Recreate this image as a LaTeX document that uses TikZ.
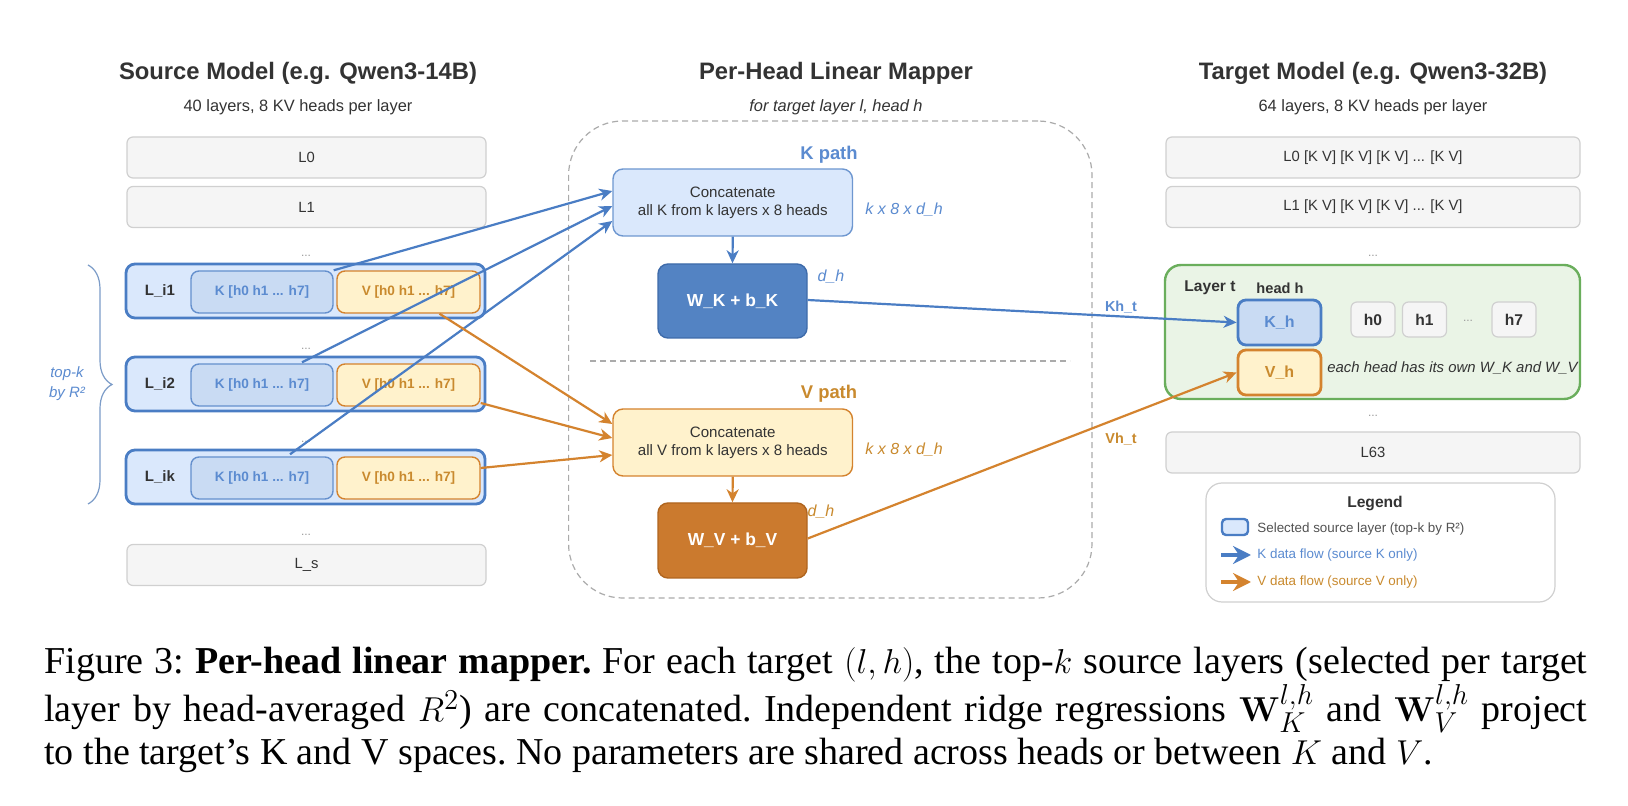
\documentclass[tikz,border=0pt]{standalone}
\usepackage[no-math]{fontspec}
\setmainfont{Liberation Sans}
\newfontfamily\capfont{Liberation Serif}
\usetikzlibrary{arrows.meta,calc,decorations.pathreplacing}
\definecolor{kblue}{HTML}{4A7DC4}
\definecolor{kfill}{HTML}{DAE8FC}
\definecolor{kinner}{HTML}{C9DBF3}
\definecolor{ktext}{HTML}{5B8BD0}
\definecolor{vorange}{HTML}{D4832E}
\definecolor{vfill}{HTML}{FFF2CC}
\definecolor{vtext}{HTML}{C98A2E}
\definecolor{wkfill}{HTML}{5383C3}
\definecolor{wkdraw}{HTML}{3E6BAA}
\definecolor{wvfill}{HTML}{CB7A2E}
\definecolor{wvdraw}{HTML}{B0651F}
\definecolor{gfill}{HTML}{F5F5F5}
\definecolor{gdraw}{HTML}{D0D0D0}
\definecolor{txt}{HTML}{333333}
\definecolor{grn}{HTML}{6AAE5C}
\definecolor{grnfill}{HTML}{EAF4E6}
\definecolor{dashc}{HTML}{ABABAB}
\definecolor{dotc}{HTML}{9A9A9A}
\definecolor{bracec}{HTML}{7C9CC8}
\newcommand\fsz[2]{\fontsize{#1}{#2}\selectfont}
\tikzset{
  title/.style={inner sep=0pt, text=txt, font=\bfseries\fsz{11.9}{14}},
  subt/.style={inner sep=0pt, text=txt, font=\fsz{8.2}{10}},
  graybox/.style={draw=gdraw, fill=gfill, line width=0.6pt, rounded corners=3pt, minimum width=179.5pt, minimum height=20.5pt, inner sep=0pt, font=\fsz{7.4}{9}, text=txt},
  tgray/.style={graybox, minimum width=207pt},
  dots/.style={inner sep=0pt, text=dotc, font=\fsz{6}{7}},
  selbox/.style={draw=kblue, fill=kfill, line width=1.4pt, rounded corners=4.5pt, minimum width=179.5pt, minimum height=27pt, inner sep=0pt},
  sellab/.style={inner sep=0pt, text=txt, font=\bfseries\fsz{7.5}{9}},
  kin/.style={draw=kblue!85, fill=kinner, line width=0.7pt, rounded corners=4pt, minimum width=71pt, minimum height=21pt, inner sep=0pt, font=\bfseries\fsz{6.8}{8}, text=ktext},
  vin/.style={draw=vorange, fill=vfill, line width=0.7pt, rounded corners=4pt, minimum width=71.5pt, minimum height=21pt, inner sep=0pt, font=\bfseries\fsz{6.8}{8}, text=vtext},
  container/.style={draw=dashc, dash pattern=on 3pt off 2pt, line width=0.6pt, rounded corners=27pt, minimum width=261.7pt, minimum height=238.5pt, inner sep=0pt},
  kpath/.style={inner sep=0pt, text=ktext, font=\bfseries\fsz{9.2}{10}},
  vpath/.style={inner sep=0pt, text=vtext, font=\bfseries\fsz{9.2}{10}},
  kcat/.style={draw=kblue!80, fill=kfill, line width=0.7pt, rounded corners=5pt, minimum width=119.75pt, minimum height=33.5pt, inner sep=0pt, align=center, font=\fsz{7.55}{9}, text=txt},
  vcat/.style={draw=vorange, fill=vfill, line width=0.7pt, rounded corners=5pt, minimum width=119.75pt, minimum height=33.5pt, inner sep=0pt, align=center, font=\fsz{7.55}{9}, text=txt},
  kdim/.style={inner sep=0pt, text=ktext, font=\itshape\fsz{8}{9}},
  vdim/.style={inner sep=0pt, text=vtext, font=\itshape\fsz{8}{9}},
  wk/.style={draw=wkdraw, fill=wkfill, line width=0.7pt, rounded corners=5pt, minimum width=74.5pt, minimum height=37pt, inner sep=0pt, text=white, font=\bfseries\fsz{8.7}{10}},
  wv/.style={draw=wvdraw, fill=wvfill, line width=0.7pt, rounded corners=5pt, minimum width=74.5pt, minimum height=37.5pt, inner sep=0pt, text=white, font=\bfseries\fsz{8.7}{10}},
  layert/.style={draw=grn, fill=grnfill, line width=1.2pt, rounded corners=8pt, minimum width=207.5pt, minimum height=67pt, inner sep=0pt},
  ltlab/.style={inner sep=0pt, text=txt, font=\bfseries\fsz{7.8}{9}},
  kh/.style={draw=kblue, fill=kinner, line width=1.4pt, rounded corners=4pt, minimum width=41.5pt, minimum height=22.5pt, inner sep=0pt, text=ktext, font=\bfseries\fsz{8}{9}},
  vh/.style={draw=vorange, fill=vfill, line width=1.4pt, rounded corners=4pt, minimum width=41.5pt, minimum height=22.5pt, inner sep=0pt, text=vtext, font=\bfseries\fsz{8}{9}},
  hbox/.style={draw=gdraw, fill=gfill, line width=0.6pt, rounded corners=3pt, minimum width=22pt, minimum height=17.5pt, inner sep=0pt, text=txt, font=\bfseries\fsz{7.8}{9}},
  note/.style={inner sep=0pt, text=txt, font=\itshape\fsz{7.45}{9}},
  legend/.style={draw=gdraw, fill=white, line width=0.6pt, rounded corners=8pt, minimum width=174.5pt, minimum height=59.5pt, inner sep=0pt},
  legt/.style={inner sep=0pt, text=txt, font=\bfseries\fsz{7.8}{9}},
  legtxt/.style={inner sep=0pt, text=txt!85, font=\fsz{6.7}{8}},
  legicon/.style={draw=kblue, fill=kfill, line width=1.2pt, rounded corners=2pt, minimum width=13pt, minimum height=8pt, inner sep=0pt},
  flowlab/.style={inner sep=0pt, font=\bfseries\fsz{7.2}{9}},
  karrow/.style={draw=kblue, line width=1.1pt, -{Stealth[length=6.5pt,width=6pt,inset=2pt]}},
  varrow/.style={draw=vorange, line width=1.1pt, -{Stealth[length=6.5pt,width=6pt,inset=2pt]}},
  sidelab/.style={inner sep=0pt, text=ktext, align=center, font=\itshape\fsz{7.5}{10}},
}
\begin{document}
\begin{tikzpicture}[x=0.5pt,y=-0.5pt]
\useasboundingbox[fill=white] (0,0) rectangle (1628,806);

% ---------------- Source column ----------------
\node[title] (st) at (298,73) {Source Model (e.g. Qwen3-14B)};
\node[subt] (ss) at (298,107) {40 layers, 8 KV heads per layer};
\node[graybox] (sL0) at (306.5,157.5) {L0};
\node[graybox] (sL1) at (306.5,207) {L1};
\node[dots] (sd1) at (306,256) {...};
\node[selbox] (si1) at (305.5,291) {};
\node[sellab] (si1l) at (160,291) {L\_i1};
\node[kin] (si1k) at (262,292) {K [h0 h1 ... h7]};
\node[vin] (si1v) at (408.5,292) {V [h0 h1 ... h7]};
\node[dots] (sd2) at (306,349) {...};
\node[selbox] (si2) at (305.5,384) {};
\node[sellab] (si2l) at (160,384) {L\_i2};
\node[kin] (si2k) at (262,385) {K [h0 h1 ... h7]};
\node[vin] (si2v) at (408.5,385) {V [h0 h1 ... h7]};
\node[dots] (sd3) at (306,442) {...};
\node[selbox] (sik) at (305.5,477) {};
\node[sellab] (sikl) at (160,477) {L\_ik};
\node[kin] (sikk) at (262,478) {K [h0 h1 ... h7]};
\node[vin] (sikv) at (408.5,478) {V [h0 h1 ... h7]};
\node[dots] (sd4) at (306,535) {...};
\node[graybox] (sLs) at (306.5,565) {L\_s};
\coordinate (bt) at (88,265);
\coordinate (bb) at (88,504);
\draw[bracec, line width=0.6pt, decorate, decoration={brace, amplitude=12pt}] (bt) -- (bb);
\node[sidelab] (topk) at (67,384) {top-k\\by R²};

% ---------------- Mapper ----------------
\node[title] (mt) at (836,73) {Per-Head Linear Mapper};
\node[subt, font=\itshape\fsz{8.2}{10}] (ms) at (836,107) {for target layer l, head h};
\node[container] (mc) at (830.3,359.5) {};
\node[kpath] (kp) at (829,155) {K path};
\node[kcat] (kc) at (732.75,202.5) {Concatenate\\all K from k layers x 8 heads};
\node[kdim, anchor=west] (kdim) at (865,210) {k x 8 x d\_h};
\node[wk] (wk) at (732.5,301) {W\_K + b\_K};
\node[kdim] (kdh) at (831,277) {d\_h};
\coordinate (sepL) at (590,361);
\coordinate (sepR) at (1070,361);
\draw[dashc, dash pattern=on 3pt off 2pt, line width=0.6pt] (sepL) -- (sepR);
\node[vpath] (vp) at (829,394) {V path};
\node[vcat] (vc) at (732.75,442.5) {Concatenate\\all V from k layers x 8 heads};
\node[vdim, anchor=west] (vdim) at (865,450) {k x 8 x d\_h};
\node[wv] (wv) at (732.5,540.5) {W\_V + b\_V};
\node[vdim] (vdh) at (821,512) {d\_h};

% ---------------- Target column ----------------
\node[title] (tt) at (1373,73) {Target Model (e.g. Qwen3-32B)};
\node[subt] (ts) at (1373,107) {64 layers, 8 KV heads per layer};
\node[tgray] (tL0) at (1373,157.5) {L0 [K V] [K V] [K V] ... [K V]};
\node[tgray] (tL1) at (1373,207) {L1 [K V] [K V] [K V] ... [K V]};
\node[dots] (td1) at (1373,256) {...};
\node[layert] (lt) at (1372.5,332) {};
\node[ltlab] (ltl) at (1210,288) {Layer t};
\node[ltlab, font=\bfseries\fsz{7.3}{9}] (hh) at (1280,288) {head h};
\node[kh] (kh) at (1279.5,322.5) {K\_h};
\node[vh] (vh) at (1279.5,372.5) {V\_h};
\node[hbox] (h0) at (1373,319.5) {h0};
\node[hbox] (h1) at (1424.5,319.5) {h1};
\node[dots] (hd) at (1468,321) {...};
\node[hbox] (h7) at (1514,319.5) {h7};
\node[note, anchor=west] (note) at (1327,368) {each head has its own W\_K and W\_V};
\node[dots] (td2) at (1373,416) {...};
\node[tgray] (tL63) at (1373,452.5) {L63};

% legend
\node[legend] (lg) at (1380.5,542.5) {};
\node[legt] (lgt) at (1375,504) {Legend};
\node[legicon] (lgi) at (1235,527) {};
\node[legtxt, anchor=west] (lg1) at (1257,529) {Selected source layer (top-k by R²)};
\coordinate (la1) at (1221,555);
\coordinate (la1e) at (1251,555);
\draw[kblue, line width=1.6pt, -{Stealth[length=9pt,width=9pt,inset=3pt]}] (la1) -- (la1e);
\node[legtxt, text=ktext, anchor=west] (lg2) at (1257,555) {K data flow (source K only)};
\coordinate (la2) at (1221,582);
\coordinate (la2e) at (1251,582);
\draw[vorange, line width=1.6pt, -{Stealth[length=9pt,width=9pt,inset=3pt]}] (la2) -- (la2e);
\node[legtxt, text=vtext, anchor=west] (lg3) at (1257,582) {V data flow (source V only)};

% flow labels
\node[flowlab, text=ktext] (kht) at (1121,307) {Kh\_t};
\node[flowlab, text=vtext] (vht) at (1121,439) {Vh\_t};

% ---------------- Arrows ----------------
\draw[karrow] (si1k.north east) -- ($(kc.west)+(0,-11.5)$);
\draw[karrow] ($(si2k.north)+(40,-1)$) -- ($(kc.west)+(0,3.5)$);
\draw[karrow] ($(sikk.north)+(28,-2)$) -- ($(kc.west)+(0,18.5)$);
\draw[varrow] ($(si1v.south)+(31,0)$) -- ($(vc.west)+(0,-18.5)$);
\draw[varrow] ($(si2v.east)+(0,18)$) -- ($(vc.west)+(0,-4.5)$);
\draw[varrow] ($(sikv.east)+(0,-10)$) -- ($(vc.west)+(0,12.5)$);
\draw[karrow] (kc.south) -- (wk.north);
\draw[varrow] (vc.south) -- (wv.north);
\draw[karrow] ($(wk.east)+(0,-1)$) -- (kh.west);
\draw[varrow] ($(wv.east)+(0,-2)$) -- (vh.west);

% ---------------- Caption ----------------
\node[anchor=north west, inner sep=0pt, text width=771.5pt, align=justify,
      font=\capfont\fsz{19}{21.3}] (cap) at (44,647)
{\frenchspacing Figure 3: \textbf{Per-head linear mapper.} For each target $(l,h)$, the top-$k$ source layers (selected per target layer by head-averaged $R^2$) are concatenated. Independent ridge regressions $\mathbf{W}_K^{l,h}$ and $\mathbf{W}_V^{l,h}$ project\linebreak to the target’s K and V spaces. No parameters are shared across heads or between $K$ and $V$.};
\end{tikzpicture}
\end{document}
